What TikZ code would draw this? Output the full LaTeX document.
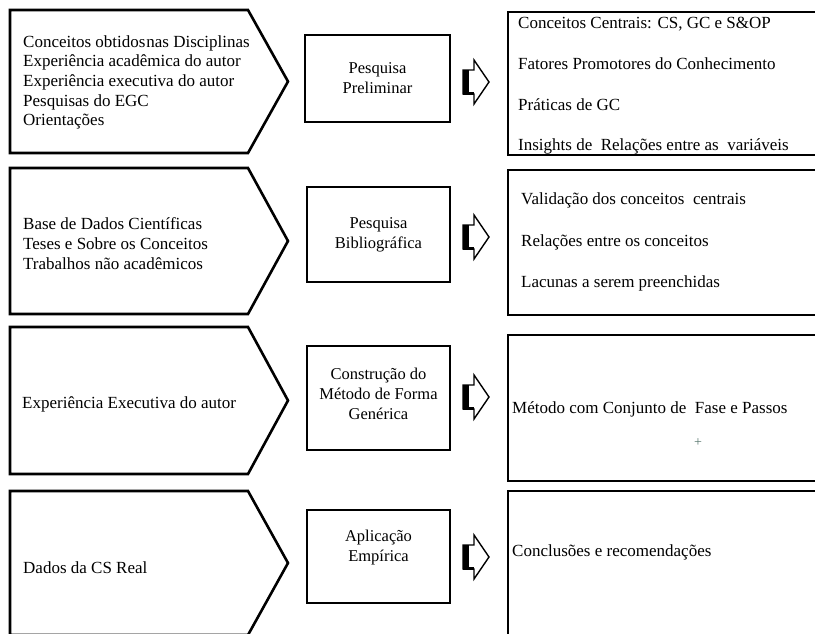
\documentclass[tikz,border=0pt]{standalone}
\usepackage{fontspec}
\setmainfont{Liberation Serif}
\definecolor{plusgray}{RGB}{90,120,112}
\begin{document}
\begin{tikzpicture}[x=1pt,y=-1pt,line join=miter,
  shapeline/.style={draw,line width=2.6pt},
  midbox/.style={draw,line width=2.6pt,minimum width=143pt,inner sep=0pt},
  txt/.style={font=\fontsize{17}{19.7}\selectfont,inner sep=0pt,anchor=west,align=left},
  midtxt/.style={font=\fontsize{16.5}{20}\selectfont,inner sep=0pt,align=center},
  plusmark/.style={text=plusgray,font=\fontsize{14}{14}\selectfont,inner sep=0pt}]
\useasboundingbox (0,0) rectangle (815,633);
\clip (0,0) rectangle (815,633);
% chevrons
\draw[shapeline] (10,10) -- (248,10) -- (288,81.5) -- (248,153) -- (10,153) -- cycle;
\draw[shapeline] (10,168) -- (248,168) -- (288,241) -- (248,314) -- (10,314) -- cycle;
\draw[shapeline] (10,327) -- (248,327) -- (288,400.5) -- (248,474) -- (10,474) -- cycle;
\draw[shapeline] (10,491) -- (248,491) -- (288,563) -- (248,635) -- (10,635) -- cycle;
% chevron texts
\node[txt] (c1) at (23,82.5) {Conceitos obtidos\hspace{0.05em}nas Disciplinas\\Experiência acadêmica do autor\\Experiência executiva do autor\\Pesquisas do EGC\\Orientações};
\node[txt] (c2) at (23,243.5) {Base de Dados Científicas\\Teses e Sobre os Conceitos\\Trabalhos não acadêmicos};
\node[txt] (c3) at (22,404) {Experiência Executiva do autor};
\node[txt] (c4) at (23,568) {Dados da CS Real};
% middle boxes
\node[midbox,minimum width=145pt,minimum height=87pt] (m1) at (377.5,78.5) {};
\node[midbox,minimum height=95pt] (m2) at (378.5,234.5) {};
\node[midbox,minimum height=104pt] (m3) at (378.5,398) {};
\node[midbox,minimum height=93pt] (m4) at (378.5,556.5) {};
\node[midtxt] (t1) at (377.5,78.5) {Pesquisa\\Preliminar};
\node[midtxt] (t2) at (378.5,235) {Pesquisa\\Bibliográfica};
\node[midtxt] (t3) at (378.5,394) {Construção do\\Método de Forma\\Genérica};
\node[midtxt] (t4) at (378.5,548) {Aplicação\\Empírica};
% block arrows
\foreach \cy [count=\i] in {82,237,397,557}{
  \coordinate (a\i) at (463,\cy);
  \begin{scope}[shift={(a\i)}]
    \fill (0,-12) rectangle (6,12);
    \draw[line width=1.4pt] (0,-12) -- (11,-12) -- (11,-22) -- (26,0) -- (11,22) -- (11,12) -- (0,12) -- cycle;
    \draw[line width=3pt] (0,11) -- (11,11);
  \end{scope}
}
% right boxes
\draw[shapeline] (508,12) rectangle (840,155);
\draw[shapeline] (508,170) rectangle (840,315);
\draw[shapeline] (508,335) rectangle (840,481);
\draw[shapeline] (508,491) rectangle (840,660);
% right texts
\node[txt] (r11) at (518,24) {Conceitos Centrais: CS, GC e S\&OP};
\node[txt] (r12) at (518,64) {Fatores Promotores do Conhecimento};
\node[txt] (r13) at (518,105) {Práticas de GC};
\node[txt] (r14) at (518,146) {Insights de\ \ Relações entre as\ \ variáveis};
\node[txt] (r21) at (521,200) {Validação dos conceitos\ \ centrais};
\node[txt] (r22) at (521,242) {Relações entre os conceitos};
\node[txt] (r23) at (521,283) {Lacunas a serem preenchidas};
\node[txt] (r31) at (512,409) {Método com Conjunto de\ \ Fase e Passos};
\node[plusmark] (p) at (698,443) {+};
\node[txt] (r41) at (512,552) {Conclusões e recomendações};
\end{tikzpicture}
\end{document}
